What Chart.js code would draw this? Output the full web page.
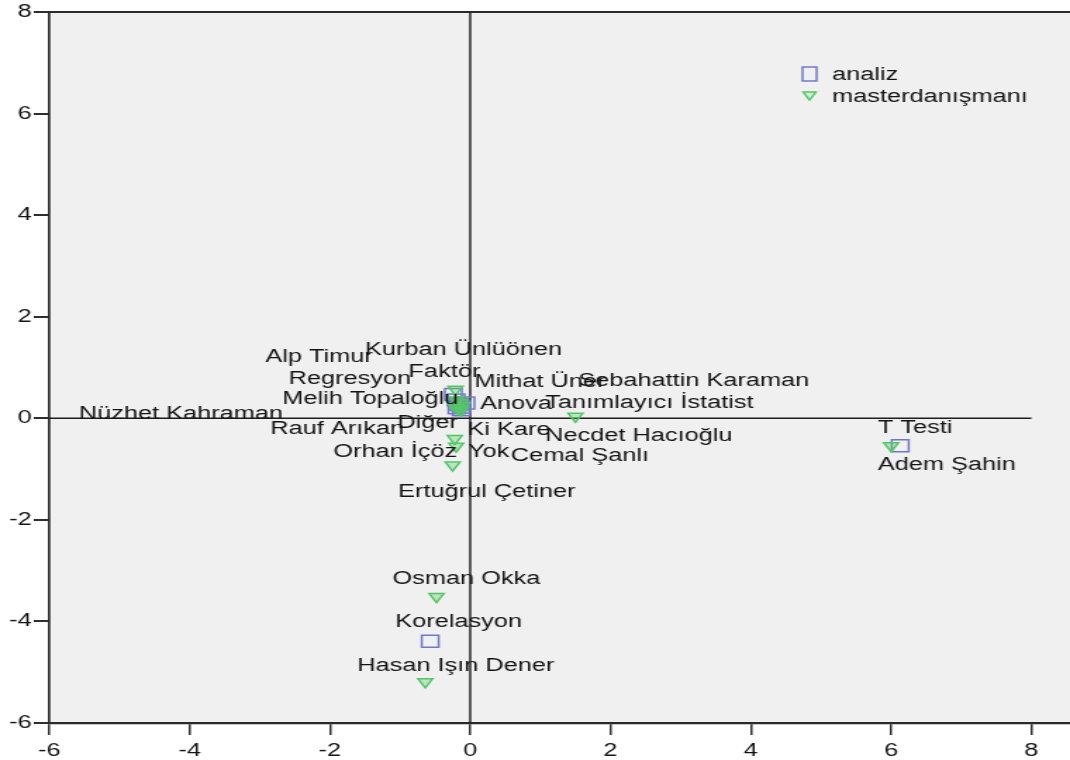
<!DOCTYPE html>
<html lang="tr">
<head>
  <meta charset="UTF-8" />
  <title>analiz / masterdanışmanı</title>
  <script src="https://cdn.jsdelivr.net/npm/chart.js"></script>
  <style>
    html, body { margin: 0; padding: 0; background: #fff; overflow: hidden; }
    /* the reference is an SPSS plot stretched sideways: draw at 760 wide, stretch to 1070 */
    #wrap { width: 760px; height: 760px; transform: scaleX(1.407895); transform-origin: 0 0; }
  </style>
</head>
<body>
  <div id="wrap"><canvas id="biplot" width="760" height="760"></canvas></div>

  <script>
    // row points (analiz)
    const analizNames = ["Regresyon", "Faktör", "Anova", "Tanımlayıcı İstatist", "Ki Kare", "Yok", "Diğer", "T Testi", "Korelasyon"];
    const analizX = [-0.24, -0.20, -0.06, -0.12, -0.13, -0.16, -0.19, 6.13, -0.57];
    const analizY = [0.47, 0.36, 0.30, 0.22, 0.17, 0.27, 0.21, -0.54, -4.39];
    const analizLabelX = [-2.59, -0.88, 0.14, 1.07, -0.04, -0.03, -1.04, 5.81, -1.07];
    const analizLabelY = [0.77, 0.91, 0.28, 0.30, -0.24, -0.67, -0.10, -0.20, -4.02];

    // column points (masterdanışmanı)
    const danismanNames = ["Alp Timur", "Kurban Ünlüönen", "Mithat Üner", "Sebahattin Karaman", "Melih Topaloğlu",
      "Nüzhet Kahraman", "Rauf Arıkan", "Orhan İçöz", "Cemal Şanlı", "Ertuğrul Çetiner",
      "Necdet Hacıoğlu", "Osman Okka", "Hasan Işın Dener", "Adem Şahin"];
    const danismanX = [-0.21, -0.19, -0.11, -0.14, -0.22, -0.13, -0.17, -0.22, -0.20, -0.25, 1.50, -0.48, -0.64, 6.00];
    const danismanY = [0.57, 0.36, 0.25, 0.31, 0.24, 0.16, 0.19, -0.40, -0.55, -0.92, 0.04, -3.51, -5.19, -0.54];
    const danismanLabelX = [-2.92, -1.50, 0.06, 1.54, -2.68, -5.58, -2.85, -1.95, 0.58, -1.03, 1.07, -1.11, -1.61, 5.81];
    const danismanLabelY = [1.20, 1.34, 0.71, 0.73, 0.37, 0.08, -0.22, -0.67, -0.75, -1.46, -0.34, -3.16, -4.87, -0.93];

    const xTicks = [-6, -4, -2, 0, 2, 4, 6, 8];
    const yTicks = [-6, -4, -2, 0, 2, 4, 6, 8];

    const FONT = '"Liberation Sans", Arial, sans-serif';
    const INK = '#141414';
    const SQUARE = '#7179c6';
    const TRIANGLE = '#52c664';

    Chart.defaults.font.family = FONT;

    const toPoints = (xs, ys) => xs.map((v, i) => ({ x: v, y: ys[i] }));

    const frame = {
      id: 'frame',
      beforeDraw(chart) {
        const { ctx, chartArea: a } = chart;
        ctx.save();
        ctx.fillStyle = '#f0f0f0';
        ctx.fillRect(a.left, a.top, a.right - a.left, a.bottom - a.top);
        ctx.restore();
      },
      beforeDatasetsDraw(chart) {
        const { ctx, chartArea: a, scales: { x, y } } = chart;
        const x0 = x.getPixelForValue(0);
        const y0 = y.getPixelForValue(0);
        ctx.save();
        ctx.strokeStyle = '#1c1c1c';
        ctx.lineWidth = 1.4;
        ctx.beginPath();
        ctx.moveTo(x0, a.top);
        ctx.lineTo(x0, a.bottom);
        ctx.moveTo(x.getPixelForValue(xTicks[0]), y0);
        ctx.lineTo(x.getPixelForValue(xTicks[xTicks.length - 1]), y0);
        ctx.stroke();
        // top edge of the frame
        ctx.strokeStyle = '#2a2a2a';
        ctx.lineWidth = 2.2;
        ctx.beginPath();
        ctx.moveTo(a.left, a.top);
        ctx.lineTo(a.right, a.top);
        ctx.stroke();
        ctx.restore();
      },
      afterDatasetsDraw(chart) {
        const { ctx, chartArea: a, scales: { x, y } } = chart;
        ctx.save();
        ctx.font = '18px ' + FONT;
        ctx.fillStyle = INK;
        ctx.textAlign = 'left';
        ctx.textBaseline = 'middle';
        analizNames.forEach((n, i) => {
          ctx.fillText(n, x.getPixelForValue(analizLabelX[i]), y.getPixelForValue(analizLabelY[i]));
        });
        danismanNames.forEach((n, i) => {
          ctx.fillText(n, x.getPixelForValue(danismanLabelX[i]), y.getPixelForValue(danismanLabelY[i]));
        });

        // legend in the upper right corner of the plot
        const lx = a.right - 185;
        const tx = a.right - 169;
        ctx.lineWidth = 1.5;
        ctx.strokeStyle = SQUARE;
        ctx.strokeRect(lx - 5, a.top + 55, 10, 14);
        ctx.strokeStyle = TRIANGLE;
        ctx.fillStyle = 'rgba(120,220,130,0.25)';
        ctx.beginPath();
        ctx.moveTo(lx - 4.5, a.top + 80);
        ctx.lineTo(lx + 4.5, a.top + 80);
        ctx.lineTo(lx, a.top + 88);
        ctx.closePath();
        ctx.fill();
        ctx.stroke();
        ctx.fillStyle = INK;
        ctx.fillText('analiz', tx, a.top + 63);
        ctx.fillText('masterdanışmanı', tx, a.top + 85);
        ctx.restore();
      }
    };

    new Chart(document.getElementById('biplot'), {
      type: 'scatter',
      data: {
        datasets: [
          {
            label: 'analiz',
            data: toPoints(analizX, analizY),
            order: 1,
            pointStyle: 'rect',
            pointRadius: 8.5,
            borderColor: SQUARE,
            backgroundColor: 'rgba(0,0,0,0)',
            borderWidth: 1.5
          },
          {
            label: 'masterdanışmanı',
            data: toPoints(danismanX, danismanY),
            order: 0,
            pointStyle: 'triangle',
            rotation: 180,
            pointRadius: 6,
            borderColor: TRIANGLE,
            backgroundColor: 'rgba(90,205,105,0.35)',
            borderWidth: 1.5
          }
        ]
      },
      options: {
        responsive: false,
        animation: false,
        events: [],
        layout: { autoPadding: false, padding: { top: 12, right: 0, left: 0, bottom: 0 } },
        plugins: {
          legend: { display: false },
          tooltip: { enabled: false }
        },
        scales: {
          x: {
            type: 'linear',
            min: -6,
            max: 8.55,
            afterBuildTicks: s => { s.ticks = xTicks.map(v => ({ value: v })); },
            afterFit: s => { s.height = 37; s.paddingLeft = 0; s.paddingRight = 0; },
            grid: { drawOnChartArea: false, tickLength: 12, color: '#2e2e2e', lineWidth: 1.5 },
            border: { display: true, color: '#2a2a2a', width: 2.2 },
            ticks: { color: INK, padding: 5, font: { size: 18 }, maxRotation: 0 }
          },
          y: {
            type: 'linear',
            min: -6,
            max: 8,
            afterBuildTicks: s => { s.ticks = yTicks.map(v => ({ value: v })); },
            afterFit: s => { s.width = 35; s.paddingTop = 0; s.paddingBottom = 0; },
            grid: { drawOnChartArea: false, tickLength: 11, color: '#2e2e2e', lineWidth: 2 },
            border: { display: true, color: '#2a2a2a', width: 1.7 },
            ticks: { color: INK, padding: 1.5, font: { size: 18 } }
          }
        }
      },
      plugins: [frame]
    });
  </script>
</body>
</html>
